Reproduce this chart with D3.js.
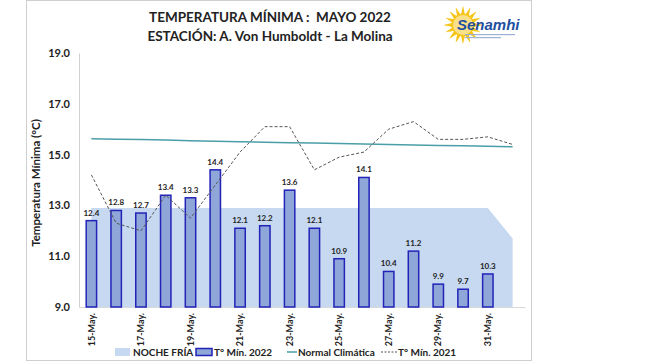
<html>
<head>
<script src="https://d3js.org/d3.v7.min.js"></script>
<style>
  body{margin:0;background:#fff;}
  text{font-family:Lato,"Open Sans",sans-serif;font-weight:bold;fill:#222;}
</style>
</head>
<body>
<script>
// data
const days = ["15-May.","16-May.","17-May.","18-May.","19-May.","20-May.","21-May.","22-May.","23-May.",
  "24-May.","25-May.","26-May.","27-May.","28-May.","29-May.","30-May.","31-May.","01-Jun."];
const tmin2022 = [12.4,12.8,12.7,13.4,13.3,14.4,12.1,12.2,13.6,12.1,10.9,14.1,10.4,11.2,9.9,9.7,10.3,null];
const tmin2021 = [14.2,12.3,12.0,13.4,12.5,13.8,15.1,16.1,16.1,14.4,14.9,15.1,16.0,16.3,15.6,15.6,15.7,15.4];
const normal = [15.62,15.60,15.59,15.57,15.55,15.53,15.51,15.49,15.47,15.46,15.44,15.42,15.40,15.38,15.36,15.35,15.33,15.31];
const nocheFria = [12.9,12.9,12.9,12.9,12.9,12.9,12.9,12.9,12.9,12.9,12.9,12.9,12.9,12.9,12.9,12.9,12.9,11.7];
const yTicks = [9,11,13,15,17,19];

const W = 645, H = 363;
const plot = {left:79, right:525, top:53, bottom:307};

const svg = d3.select("body").append("svg").attr("width",W).attr("height",H);

// outer border
svg.append("rect").attr("x",26.5).attr("y",0.5).attr("width",505).attr("height",360)
  .attr("fill","#fff").attr("stroke","#cfcfcf");

// title
svg.append("text").attr("x",270).attr("y",22).attr("text-anchor","middle")
  .style("font-size","13.5px").style("white-space","pre").text("TEMPERATURA MÍNIMA :  MAYO 2022");
svg.append("text").attr("x",270).attr("y",41).attr("text-anchor","middle")
  .style("font-size","13.5px").text("ESTACIÓN: A. Von Humboldt - La Molina");

// logo (simplified)
const logo = svg.append("g").attr("transform","translate(463,25)");
const rays = [];
for (let i=0;i<32;i++){
  const a = i/32*2*Math.PI, r = i%2?11:19;
  rays.push([r*Math.cos(a), r*Math.sin(a)]);
}
logo.append("path").attr("d",d3.line().curve(d3.curveCardinalClosed.tension(0.6))(rays)).attr("fill","#f6c51a");
logo.append("circle").attr("r",10).attr("fill","#fbe08a");
logo.append("text").attr("x",-6).attr("y",5).style("font-size","15px").style("font-style","italic")
  .style("fill","#1e4fa0").style("font-family","Liberation Sans, Arial").text("Senamhi");
logo.append("rect").attr("x",2).attr("y",9).attr("width",50).attr("height",1.2).attr("fill","#9bb2d6");
logo.append("rect").attr("x",2).attr("y",12).attr("width",36).attr("height",1.2).attr("fill","#9bb2d6");

// scales
const x = d3.scaleBand().domain(days).range([plot.left,plot.right]);
const y = d3.scaleLinear().domain([9,19]).range([plot.bottom,plot.top]);
const cx = d => x(d) + x.bandwidth()/2;
const barW = x.bandwidth()*0.42;

// noche fria area
svg.append("path")
  .datum(days.map((d,i)=>({d, v:nocheFria[i]})))
  .attr("fill","#c6d9f1")
  .attr("d", d3.area().x(p=>cx(p.d)).y0(y(9)).y1(p=>y(p.v)));

// axes
const yAxis = svg.append("g").attr("transform",`translate(${plot.left},0)`)
  .call(d3.axisLeft(y).tickValues(yTicks).tickFormat(d3.format(".1f")).tickSize(0).tickPadding(9));
yAxis.select(".domain").attr("stroke","#d0d0d0");
yAxis.selectAll("text").style("font-size","11px").style("font-family","Lato, sans-serif");

const xAxis = svg.append("g").attr("transform",`translate(0,${plot.bottom})`)
  .call(d3.axisBottom(x).tickValues(days.filter((d,i)=>i%2===0 && i<17)).tickSize(0));
xAxis.select(".domain").attr("stroke","#d9d9d9");
xAxis.selectAll("text").style("font-size","9px").style("font-family","Lato, sans-serif")
  .attr("transform","rotate(-90)").attr("text-anchor","end").attr("x",-6).attr("y",0).attr("dy","0.35em");

// bars
const barData = days.map((d,i)=>({d, v:tmin2022[i]})).filter(p=>p.v!==null);
svg.append("g").selectAll("rect").data(barData).enter().append("rect")
  .attr("x",p=>cx(p.d)-barW/2).attr("width",barW)
  .attr("y",p=>y(p.v)).attr("height",p=>y(9)-y(p.v))
  .attr("fill","#8fa6d8").attr("stroke","#2323b8").attr("stroke-width",1.5);

svg.append("g").selectAll("text").data(barData).enter().append("text")
  .attr("x",p=>cx(p.d)).attr("y",p=>y(p.v)-5).attr("text-anchor","middle")
  .style("font-size","8px").text(p=>p.v.toFixed(1));

// normal line
svg.append("path").datum(days.map((d,i)=>({d, v:normal[i]})))
  .attr("fill","none").attr("stroke","#4a9ea8").attr("stroke-width",1.5)
  .attr("d", d3.line().x(p=>cx(p.d)).y(p=>y(p.v)));

// 2021 line
svg.append("path").datum(days.map((d,i)=>({d, v:tmin2021[i]})))
  .attr("fill","none").attr("stroke","#555").attr("stroke-width",1).attr("stroke-dasharray","3,2")
  .attr("d", d3.line().x(p=>cx(p.d)).y(p=>y(p.v)));

// y title
svg.append("text").attr("transform","translate(40,183) rotate(-90)").attr("text-anchor","middle")
  .style("font-size","11.5px").text("Temperatura Mínima (°C)");

// legend
const lg = svg.append("g").style("font-size","10px");
lg.append("rect").attr("x",115).attr("y",348).attr("width",15).attr("height",8).attr("fill","#c6d9f1");
lg.append("text").attr("x",133).attr("y",356).text("NOCHE FRÍA");
lg.append("rect").attr("x",196).attr("y",348.5).attr("width",16).attr("height",7).attr("fill","#8fa6d8").attr("stroke","#2323b8").attr("stroke-width",1.5);
lg.append("text").attr("x",214).attr("y",356).text("T° Mín. 2022");
lg.append("line").attr("x1",287).attr("x2",297).attr("y1",352).attr("y2",352).attr("stroke","#4a9ea8").attr("stroke-width",1.5);
lg.append("text").attr("x",298).attr("y",356).text("Normal Climática");
lg.append("line").attr("x1",381).attr("x2",397).attr("y1",352).attr("y2",352).attr("stroke","#555").attr("stroke-dasharray","2,1.5");
lg.append("text").attr("x",398).attr("y",356).text("T° Mín. 2021");
</script>
</body>
</html>
